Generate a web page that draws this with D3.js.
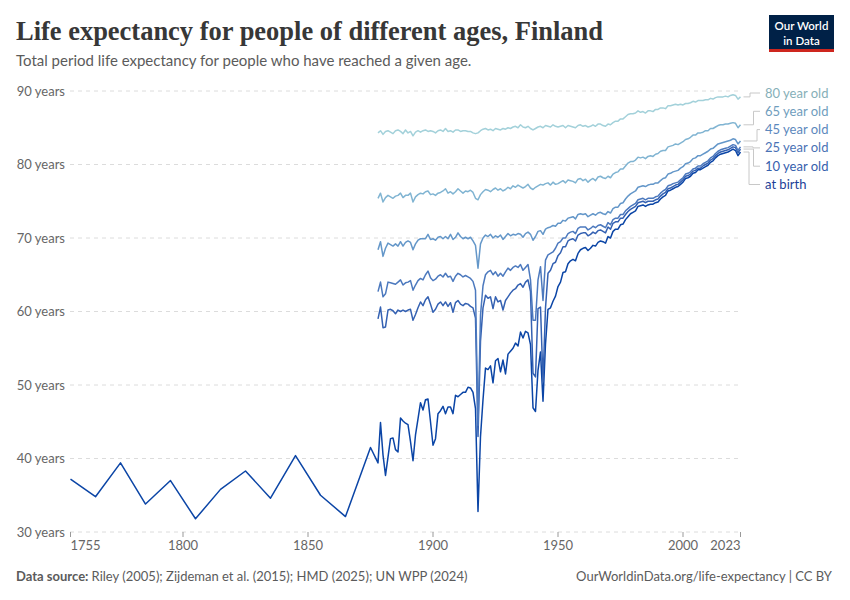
<!DOCTYPE html>
<html><head><meta charset="utf-8">
<script src="https://cdn.jsdelivr.net/npm/d3@7"></script>
<style>body{margin:0;background:#fff} text{font-family:Lato,"Noto Sans",sans-serif}</style>
</head><body>
<svg id="c" width="850" height="600"></svg>
<script>
// ---------- DATA ----------
const rileyYears = [1755,1765,1775,1785,1795,1805,1815,1825,1835,1845,1855,1865,1875];
const rileyBirth = [37.2,34.8,39.4,33.8,37.0,31.8,35.8,38.3,34.6,40.4,35.0,32.1,41.5];

const hmdYears = d3.range(1878, 2024);

const atBirth = [39.4,44.9,
40.5,37.7,40.2,42.7,42.8,41.2,40.9,45.5,45.1,44.8,
44.6,42.3,39.7,43.2,45.4,47.6,46.6,48.0,48.1,45.0,
41.8,42.7,46.1,46.5,47.1,46.1,47.0,47.0,46.1,48.6,
48.4,48.7,49.0,49.0,49.7,49.6,49.0,46.8,32.8,43.0,
48.0,52.3,52.1,52.6,50.3,53.3,53.6,51.8,53.4,51.5,
54.2,54.6,55.0,55.7,55.3,57.2,56.4,57.3,57.1,55.5,
46.9,46.4,52.0,54.5,47.8,55.6,60.3,60.5,61.4,62.1,
63.4,64.0,65.3,65.4,66.5,66.9,67.1,66.9,67.9,68.4,
68.6,68.7,68.3,68.6,69.0,68.9,69.4,69.6,69.5,69.3,
70.2,70.0,70.9,71.2,71.2,71.8,71.9,72.5,72.9,73.3,
73.5,73.7,74.3,74.4,74.5,74.3,74.5,74.6,74.6,74.8,
74.9,75.3,75.6,75.8,76.4,76.5,76.7,76.9,77.0,77.3,
77.6,78.1,78.2,78.4,78.8,78.9,79.3,79.3,79.5,79.7,
79.9,80.3,80.5,80.9,81.2,81.4,81.5,81.6,81.7,81.9,
82.1,81.9,81.2,81.7];

const age10 = [59.0,60.6,
57.8,57.9,60.2,60.3,60.1,59.7,60.2,60.0,60.2,60.0,
60.2,60.3,58.8,59.6,60.5,61.3,60.8,61.6,62.0,61.0,
59.9,60.3,61.0,61.3,60.8,61.3,60.7,61.2,59.9,61.2,
61.5,61.0,60.8,61.1,61.0,60.7,60.5,59.1,43.0,56.0,
60.5,62.2,61.8,62.0,60.4,62.0,61.3,61.5,60.2,61.5,
62.0,62.5,62.9,63.1,63.6,63.8,63.3,64.0,64.3,62.7,
51.6,51.1,60.4,60.6,50.5,60.5,65.2,65.6,66.5,66.7,
67.6,68.0,68.8,68.8,69.6,69.8,69.9,69.6,70.4,70.6,
70.7,70.7,70.3,70.5,70.8,70.6,71.0,71.1,70.9,70.7,
71.5,71.2,72.0,72.2,72.2,72.7,72.7,73.2,73.6,73.9,
74.1,74.3,74.8,74.9,75.0,74.8,75.0,75.0,75.0,75.2,
75.3,75.7,76.0,76.2,76.7,76.8,77.0,77.2,77.3,77.6,
77.9,78.4,78.5,78.7,79.1,79.2,79.5,79.5,79.8,80.0,
80.2,80.6,80.8,81.2,81.5,81.7,81.8,81.9,82.0,82.2,
82.4,82.3,81.6,82.1];

const age25 = [62.7,64.0,
62.0,62.4,64.0,63.9,63.8,63.7,64.0,64.3,63.6,63.9,
64.0,64.2,62.9,63.6,64.2,64.5,64.3,65.0,65.5,64.6,
64.2,64.4,64.8,65.0,64.7,65.2,64.7,64.8,64.1,64.8,
65.2,65.0,64.7,64.9,64.7,64.5,64.1,62.9,44.5,59.5,
63.5,65.0,65.4,65.6,65.0,65.4,64.8,65.2,64.8,65.4,
65.9,65.6,66.0,66.2,66.0,66.4,65.6,66.0,66.4,64.3,
58.8,58.8,64.3,66.1,61.5,67.0,67.7,67.9,68.1,68.6,
69.3,69.5,70.0,70.0,70.6,70.8,70.9,70.6,71.3,71.5,
71.5,71.5,71.1,71.3,71.6,71.4,71.7,71.8,71.6,71.4,
72.1,71.8,72.5,72.7,72.7,73.2,73.2,73.7,74.0,74.3,
74.5,74.7,75.2,75.3,75.4,75.2,75.4,75.4,75.4,75.6,
75.7,76.1,76.4,76.6,77.1,77.2,77.4,77.5,77.6,77.9,
78.2,78.7,78.8,79.0,79.4,79.5,79.8,79.8,80.1,80.3,
80.5,80.9,81.1,81.5,81.8,82.0,82.1,82.2,82.3,82.5,
82.7,82.6,81.9,82.4];

const age45 = [68.4,69.5,
67.5,68.6,69.3,69.1,68.9,69.2,68.9,69.5,68.9,69.4,
69.6,69.4,68.4,69.2,69.7,69.9,69.9,69.9,70.5,69.8,
69.9,69.7,70.1,70.2,69.9,70.2,69.9,70.5,69.8,70.1,
70.7,70.2,69.9,70.1,69.9,70.1,69.6,69.0,65.9,69.2,
70.0,70.4,70.2,70.5,70.0,70.3,70.1,70.4,69.8,70.2,
70.6,70.3,70.5,70.4,70.6,70.5,70.1,70.6,70.8,70.5,
69.7,70.2,70.9,71.0,70.5,71.2,71.4,71.5,71.7,71.6,
72.0,72.0,72.4,72.3,72.7,72.8,72.9,72.6,73.2,73.3,
73.2,73.3,72.9,73.1,73.3,73.1,73.4,73.5,73.3,73.2,
73.6,73.4,74.0,74.2,74.2,74.7,74.8,75.3,75.7,76.0,
76.2,76.4,76.9,77.0,77.1,77.0,77.2,77.3,77.3,77.5,
77.5,77.8,78.1,78.2,78.7,78.8,79.0,79.1,79.2,79.5,
79.7,80.1,80.2,80.4,80.8,80.9,81.2,81.2,81.4,81.6,
81.8,82.1,82.2,82.5,82.8,82.9,83.0,83.1,83.2,83.3,
83.5,83.4,82.8,83.2];

const age65 = [75.4,76.1,
74.9,75.5,75.8,75.6,75.4,75.7,75.8,76.1,75.5,75.8,
75.8,76.1,74.9,75.6,75.9,76.1,76.0,76.3,76.4,75.9,
76.0,75.8,76.1,76.2,76.4,76.7,76.1,76.3,76.0,76.3,
76.7,76.4,76.1,76.4,76.3,76.5,76.2,75.4,75.2,75.9,
76.3,76.6,76.5,76.3,76.6,76.8,76.5,76.7,76.4,76.6,
76.9,76.7,77.1,76.9,77.2,77.0,76.8,77.0,77.3,76.8,
76.6,76.9,77.1,77.3,77.2,77.4,77.5,77.2,77.6,77.3,
77.4,77.6,77.8,77.5,77.9,77.8,77.7,77.5,78.0,78.1,
77.8,78.0,77.6,77.9,78.1,77.8,78.3,78.4,78.2,78.1,
78.4,78.2,78.7,78.9,79.0,79.4,79.4,79.8,80.2,80.4,
80.4,80.6,81.0,80.9,81.0,80.8,81.1,81.2,81.1,81.4,
81.5,81.8,81.9,81.9,82.4,82.5,82.6,82.8,82.7,82.9,
83.1,83.4,83.5,83.7,84.0,84.0,84.3,84.3,84.4,84.6,
84.6,84.9,84.9,85.1,85.3,85.4,85.4,85.5,85.5,85.6,
85.7,85.6,85.0,85.4];

const age80 = [84.3,84.6,
84.1,84.5,84.6,84.4,84.2,84.6,84.7,84.5,84.2,84.7,
84.3,84.5,83.9,84.4,84.6,84.4,84.6,84.7,84.5,84.6,
84.5,84.3,84.6,84.7,84.5,84.9,84.5,84.6,84.4,84.7,
84.7,84.5,84.6,84.6,84.5,84.5,84.3,84.2,84.3,84.6,
84.8,84.9,84.7,84.8,84.6,84.9,84.8,84.7,84.9,84.8,
85.0,84.9,85.1,85.2,85.0,85.4,85.1,85.0,85.2,84.9,
84.7,84.9,85.1,85.2,85.0,85.3,85.2,85.1,85.4,85.2,
85.1,85.2,85.3,85.0,85.3,85.2,85.1,85.0,85.3,85.4,
85.2,85.3,85.1,85.2,85.4,85.2,85.5,85.5,85.3,85.2,
85.5,85.4,85.7,85.9,85.9,86.2,86.2,86.5,86.8,86.9,
86.9,87.0,87.3,87.1,87.2,87.0,87.3,87.3,87.2,87.5,
87.5,87.7,87.7,87.6,88.0,88.0,88.1,88.2,88.1,88.2,
88.1,88.3,88.3,88.4,88.6,88.5,88.7,88.7,88.7,88.8,
88.8,89.0,88.9,89.1,89.2,89.2,89.2,89.3,89.2,89.4,
89.5,89.4,88.9,89.2];

const seriesNames = ["80 year old","65 year old","45 year old","25 year old","10 year old","at birth"];
const yTicks = [30,40,50,60,70,80,90];
const xTicks = [1755,1800,1850,1900,1950,2000,2023];

// ---------- STYLE ----------
const lineColors  = ["#a3d1da","#80b4d2","#6497c9","#4c79be","#3461b2","#0b45a6"];
const labelColors = ["#86afb8","#6f9dbd","#5c88bd","#4a72b5","#3660ad","#1c3f98"];

const svg = d3.select("#c");
const x = d3.scaleLinear().domain([1755, 2023]).range([70.5, 740.5]);
const y = d3.scaleLinear().domain([30, 90]).range([532, 91]);

// Title
svg.append("text").attr("x",16).attr("y",40)
  .style("font-family","'Liberation Serif',serif").style("font-size","27px").style("font-weight","700")
  .attr("fill","#373737").attr("textLength",587).attr("lengthAdjust","spacingAndGlyphs")
  .text("Life expectancy for people of different ages, Finland");
svg.append("text").attr("x",16).attr("y",66)
  .style("font-size","15px").attr("fill","#5b5b5b")
  .text("Total period life expectancy for people who have reached a given age.");

// Logo
svg.append("rect").attr("x",769).attr("y",15).attr("width",65).attr("height",35).attr("fill","#002147");
svg.append("rect").attr("x",769).attr("y",49).attr("width",65).attr("height",3).attr("fill","#ce261e");
svg.append("text").attr("x",801.5).attr("y",30).attr("text-anchor","middle").attr("fill","#fff")
  .style("font-size","11.5px").style("font-weight","600").text("Our World");
svg.append("text").attr("x",801.5).attr("y",44.5).attr("text-anchor","middle").attr("fill","#fff")
  .style("font-size","11.5px").style("font-weight","600").text("in Data");

// Grid + y labels
const g = svg.append("g");
yTicks.forEach(t => {
  g.append("line").attr("x1",70).attr("x2",740.5).attr("y1",y(t)).attr("y2",y(t))
    .attr("stroke","#dcdcdc").attr("stroke-dasharray","4,4");
  g.append("text").attr("x",65).attr("y",y(t)).attr("dy","0.35em").attr("text-anchor","end")
    .style("font-size","13px").attr("fill","#666").text(t + " years");
});

// X ticks
xTicks.forEach((t,i) => {
  g.append("line").attr("x1",x(t)).attr("x2",x(t)).attr("y1",532).attr("y2",537).attr("stroke","#999");
  g.append("text").attr("x",x(t)).attr("y",550)
    .attr("text-anchor", i===0 ? "start" : (i===xTicks.length-1 ? "end" : "middle"))
    .style("font-size","13px").attr("fill","#666").text(t);
});

// Series
const allValues = [age80, age65, age45, age25, age10, atBirth];
const series = seriesNames.map((name,i) => {
  let pts = hmdYears.map((yr,j) => ({year: yr, v: allValues[i][j]}));
  if (name === "at birth") pts = rileyYears.map((yr,j)=>({year:yr, v:rileyBirth[j]})).concat(pts);
  return {name, pts, color: lineColors[i], lcolor: labelColors[i]};
});
const line = d3.line().x(d=>x(d.year)).y(d=>y(d.v));
series.slice().reverse().forEach(s => {
  svg.append("path").attr("d", line(s.pts)).attr("fill","none").attr("stroke",s.color)
    .attr("stroke-width",1.5).attr("stroke-linejoin","round");
});

// Label placement (cluster centering, clamped at top)
const gap = 18.3;
let labs = series.map(s => ({s, target: y(s.pts[s.pts.length-1].v)}));
labs.sort((a,b)=>a.target-b.target);
let clusters = labs.map(l => ({items:[l], center:l.target}));
let changed = true;
while (changed) {
  changed = false;
  for (let i=0;i<clusters.length-1;i++) {
    const a = clusters[i], b = clusters[i+1];
    const aBottom = a.center + (a.items.length-1)*gap/2;
    const bTop = b.center - (b.items.length-1)*gap/2;
    if (bTop - aBottom < gap) {
      const items = a.items.concat(b.items);
      clusters.splice(i,2,{items, center: d3.mean(items, d=>d.target)});
      changed = true; break;
    }
  }
}
const minY = y(90) + 2;
let pos = [];
clusters.forEach(c => c.items.forEach((l,k) => { pos.push({l, y: c.center - (c.items.length-1)*gap/2 + k*gap}); }));
for (let i=0;i<pos.length;i++) {
  const lo = i===0 ? minY : pos[i-1].y + gap;
  if (pos[i].y < lo) pos[i].y = lo;
}
const elbows = [750, 753.5, 757, 753, 753.5, 749];
pos.forEach((p,i) => {
  const ex = elbows[i];
  svg.append("path")
    .attr("d", `M743.5,${p.l.target}H${ex}V${p.y}H760`)
    .attr("fill","none").attr("stroke","#c8c8c8").attr("stroke-width",1);
  svg.append("text").attr("x",765).attr("y",p.y).attr("dy","0.35em")
    .style("font-size","13px").attr("fill",p.l.s.lcolor).text(p.l.s.name);
});

// Footer
const f = svg.append("text").attr("x",16).attr("y",581).style("font-size","13px").attr("fill","#5b5b5b");
f.append("tspan").style("font-weight","700").text("Data source: ");
f.append("tspan").text("Riley (2005); Zijdeman et al. (2015); HMD (2025); UN WPP (2024)");
svg.append("text").attr("x",832).attr("y",581).attr("text-anchor","end")
  .style("font-size","13px").attr("fill","#5b5b5b").text("OurWorldinData.org/life-expectancy | CC BY");
</script>
</body></html>
